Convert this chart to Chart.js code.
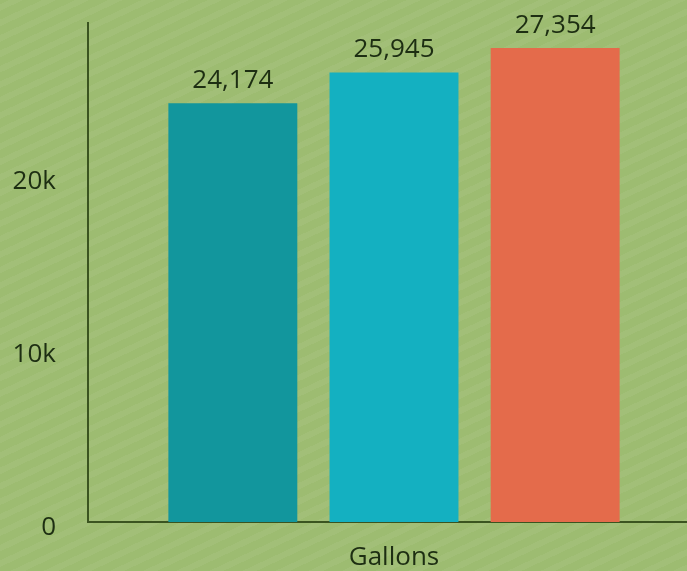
<!DOCTYPE html>
<html>
<head>
<meta charset="utf-8">
<script src="https://cdn.jsdelivr.net/npm/chart.js@4/dist/chart.umd.min.js"></script>
<style>
  html, body { margin: 0; padding: 0; }
  body {
    width: 687px; height: 571px; overflow: hidden;
    background-color: #9dbc71;
    background-image: repeating-linear-gradient(-25deg, rgba(255,255,255,0.05) 0px, rgba(255,255,255,0.05) 6px, rgba(0,0,0,0) 6px, rgba(0,0,0,0) 14px);
  }
  /* el gráfico original está recortado por la derecha */
  #wrap { position: relative; width: 700px; height: 571px; }
</style>
</head>
<body>
<div id="wrap"><canvas id="chart"></canvas></div>
<script>
"use strict";

// datos del gráfico
const categorias = ["Gallons"];
const valoresA = [24174];
const valoresB = [25945];
const valoresC = [27354];
const ticksY = [0, 10000, 20000];
const etiquetasY = ["0", "10k", "20k"];

const colorTexto = "#1d2e12";
const colorEje = "#3b5420";
const fuente = "'Open Sans', sans-serif";

// etiquetas de valor encima de cada barra
const etiquetasBarras = {
  id: "etiquetasBarras",
  afterDatasetsDraw(chart) {
    const ctx = chart.ctx;
    ctx.save();
    ctx.font = "26px " + fuente;
    ctx.fillStyle = colorTexto;
    ctx.textAlign = "center";
    ctx.textBaseline = "alphabetic";
    chart.data.datasets.forEach((ds, i) => {
      const meta = chart.getDatasetMeta(i);
      meta.data.forEach((bar, j) => {
        ctx.fillText(ds.data[j].toLocaleString("en-US"), bar.x, bar.y - 15);
      });
    });
    ctx.restore();
  },
};

new Chart(document.getElementById("chart"), {
  type: "bar",
  data: {
    labels: categorias,
    datasets: [
      { label: "A", data: valoresA, backgroundColor: "#12969d" },
      { label: "B", data: valoresB, backgroundColor: "#14b0c1" },
      { label: "C", data: valoresC, backgroundColor: "#e46b4b" },
    ],
  },
  options: {
    responsive: true,
    maintainAspectRatio: false,
    animation: false,
    layout: { padding: { top: 23, right: 0, left: 0, bottom: 0 } },
    datasets: { bar: { categoryPercentage: 0.79, barPercentage: 0.8 } },
    plugins: { legend: { display: false }, tooltip: { enabled: false } },
    scales: {
      x: {
        afterFit(scale) {
          scale.height = 49;
          scale.paddingLeft = 0;
          scale.paddingRight = 0;
        },
        grid: { display: false, drawTicks: false },
        border: { display: true, color: colorEje, width: 2 },
        ticks: { color: colorTexto, font: { family: fuente, size: 26 }, padding: 20 },
      },
      y: {
        min: 0,
        max: 28800,
        afterBuildTicks(scale) {
          scale.ticks = ticksY.map((v) => ({ value: v }));
        },
        afterFit(scale) {
          scale.width = 88;
          scale.paddingTop = 0;
          scale.paddingBottom = 0;
        },
        grid: { display: false, drawTicks: false },
        border: { display: true, color: colorEje, width: 2 },
        ticks: {
          color: colorTexto,
          font: { family: fuente, size: 26 },
          padding: 32,
          labelOffset: 6,
          callback(v) {
            const k = ticksY.indexOf(v);
            return k >= 0 ? etiquetasY[k] : "";
          },
        },
      },
    },
  },
  plugins: [etiquetasBarras],
});
</script>
</body>
</html>
